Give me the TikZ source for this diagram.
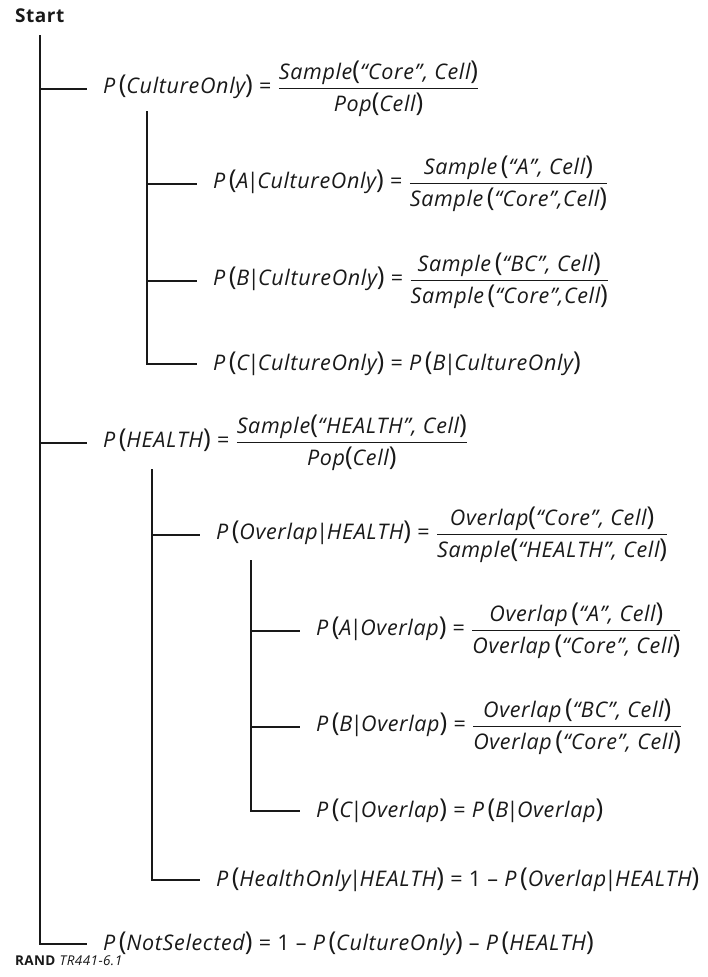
\documentclass[tikz,border=0pt]{standalone}
\usepackage{amsmath}
\usepackage{fontspec}
\setmainfont{Open Sans}[LetterSpace=3]
\newcommand{\lp}{{\fontsize{26}{26}\selectfont\upshape(}}
\newcommand{\rp}{{\fontsize{26}{26}\selectfont\upshape)}}
\newcommand{\gv}{\kern-1.5pt{\upshape|}\kern-1.5pt}
\newcommand{\fr}[2]{$\genfrac{}{}{1.1pt}{0}{\hbox{#1\vrule depth 5pt width 0pt}}{\hbox{\vrule height 19pt width 0pt#2}}$}
\newcommand{\eq}{{\upshape\ =\ }}
\newcommand{\mn}{{\upshape\ –\ }}

\begin{document}
\begin{tikzpicture}[x=1pt, y=-1pt, line width=2pt, color={black!90},
  eqn/.style={anchor=west, inner xsep=15pt, inner ysep=0pt, font=\fontsize{21.5}{24}\selectfont\itshape}]
\useasboundingbox (0,0) rectangle (707,977);

\node[anchor=west, inner sep=0pt, font=\fontsize{19}{22}\selectfont\bfseries] (start) at (14,16) {Start};
\node[anchor=west, inner sep=0pt, font=\fontsize{13.5}{15}\selectfont] (rand) at (14,961) {\textbf{RAND} \textit{TR441-6.1}};

% first level
\node[eqn] (cult) at (87,89) {P\,\lp CultureOnly\rp\eq\fr{Sample\lp“Core”, Cell\rp}{Pop\lp Cell\rp}};
\node[eqn] (health) at (87,443) {P\,\lp HEALTH\rp\eq\fr{Sample\lp“HEALTH”, Cell\rp}{Pop\lp Cell\rp}};
\node[eqn] (notsel) at (87,944) {P\,\lp NotSelected\rp\eq{\upshape 1}\mn P\,\lp CultureOnly\rp\mn P\,\lp HEALTH\rp};

% culture only
\node[eqn] (ca) at (197,184) {P\,\lp A\gv CultureOnly\rp\eq\fr{Sample\,\lp“A”, Cell\rp}{Sample\,\lp“Core”,Cell\rp}};
\node[eqn] (cb) at (197,281) {P\,\lp B\gv CultureOnly\rp\eq\fr{Sample\,\lp“BC”, Cell\rp}{Sample\,\lp“Core”,Cell\rp}};
\node[eqn] (cc) at (197,364) {P\,\lp C\gv CultureOnly\rp\eq P\,\lp B\gv CultureOnly\rp};

% health
\node[eqn] (ovl) at (200,535) {P\,\lp Overlap\gv HEALTH\rp\eq\fr{Overlap\lp“Core”, Cell\rp}{Sample\lp“HEALTH”, Cell\rp}};
\node[eqn] (honly) at (200,880) {P\,\lp HealthOnly\gv HEALTH\rp\eq{\upshape 1}\mn P\,\lp Overlap\gv HEALTH\rp};

% overlap
\node[eqn] (oa) at (300,631) {P\,\lp A\gv Overlap\rp\eq\fr{Overlap\,\lp“A”, Cell\rp}{Overlap\,\lp“Core”, Cell\rp}};
\node[eqn] (ob) at (300,727) {P\,\lp B\gv Overlap\rp\eq\fr{Overlap\,\lp“BC”, Cell\rp}{Overlap\,\lp“Core”, Cell\rp}};
\node[eqn] (oc) at (300,811) {P\,\lp C\gv Overlap\rp\eq P\,\lp B\gv Overlap\rp};

\coordinate (top0) at (39.5,35);
\coordinate (top1) at (147,111);
\coordinate (top2) at (152,469);
\coordinate (top3) at (251,560);

\draw (top0) |- (notsel.west);
\draw (top0 |- cult.west) -- (cult.west);
\draw (top0 |- health.west) -- (health.west);

\draw (top1) |- (cc.west);
\draw (top1 |- ca.west) -- (ca.west);
\draw (top1 |- cb.west) -- (cb.west);

\draw (top2) |- (honly.west);
\draw (top2 |- ovl.west) -- (ovl.west);

\draw (top3) |- (oc.west);
\draw (top3 |- oa.west) -- (oa.west);
\draw (top3 |- ob.west) -- (ob.west);

\end{tikzpicture}
\end{document}
